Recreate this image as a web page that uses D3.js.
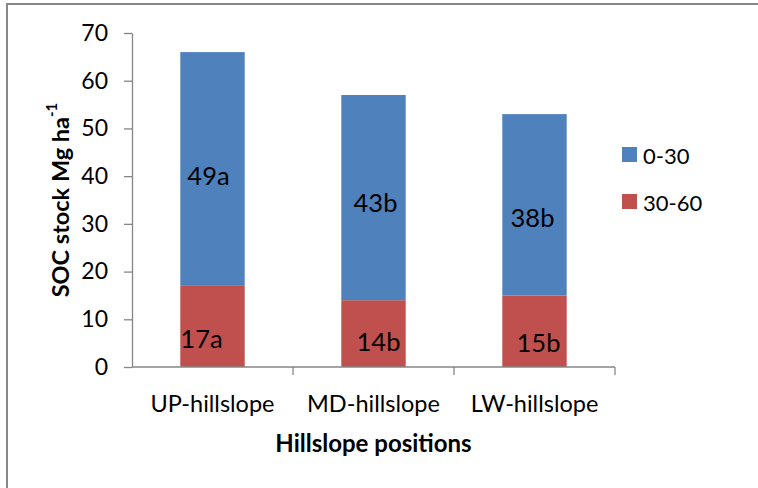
<!DOCTYPE html>
<html>
<head>
<meta charset="utf-8">
<script src="https://cdn.jsdelivr.net/npm/d3@7"></script>
<style>
  html, body { margin: 0; padding: 0; background: #fff; }
  svg { display: block; font-family: Lato, "Open Sans", sans-serif; }
</style>
</head>
<body>
<svg id="chart" width="758" height="488"></svg>
<script>
// ---- data ----
const categories = ["UP-hillslope", "MD-hillslope", "LW-hillslope"];
const seriesNames = ["0-30", "30-60"];
const depth0_30 = [49, 43, 38];
const depth30_60 = [17, 14, 15];
const labels0_30 = ["49a", "43b", "38b"];
const labels30_60 = ["17a", "14b", "15b"];
const yTicks = [0, 10, 20, 30, 40, 50, 60, 70];

// ---- layout / style (not data) ----
const colors = { "0-30": "#4F81BD", "30-60": "#C0504D" };
const labelNudge = { // [dx, dy] in px relative to segment centre
  "0-30": [[-4, 6], [2, 4], [-2, 12]],
  "30-60": [[-11, 12], [5, 7], [4, 11]]
};

const svg = d3.select("#chart");
const margin = { left: 132, top: 33, right: 143, bottom: 121 };
const W = 758, H = 488;
const plotW = W - margin.left - margin.right; // 483
const plotH = H - margin.top - margin.bottom; // 334

// frame
svg.append("rect")
  .attr("x", 7).attr("y", 4)
  .attr("width", 800).attr("height", 600)
  .attr("fill", "none").attr("stroke", "#888").attr("stroke-width", 2);

const g = svg.append("g").attr("transform", `translate(${margin.left},${margin.top})`);

const x = d3.scaleBand().domain(categories).range([0, plotW]).paddingInner(0.6).paddingOuter(0.3);
const xb = d3.scaleBand().domain(categories).range([0, plotW]);
const y = d3.scaleLinear().domain([0, 70]).range([plotH, 0]);

const rows = categories.map((c, i) => ({ cat: c, "0-30": depth0_30[i], "30-60": depth30_60[i] }));
const stack = d3.stack().keys(["30-60", "0-30"])(rows);
const labelMap = { "0-30": labels0_30, "30-60": labels30_60 };

// bars
stack.forEach(layer => {
  g.append("g").selectAll("rect").data(layer).join("rect")
    .attr("x", d => x(d.data.cat))
    .attr("width", x.bandwidth())
    .attr("y", d => y(d[1]))
    .attr("height", d => y(d[0]) - y(d[1]))
    .attr("fill", colors[layer.key]);
});

// bar labels
stack.forEach(layer => {
  g.append("g").selectAll("text").data(layer).join("text")
    .attr("x", (d, i) => x(d.data.cat) + x.bandwidth() / 2 + labelNudge[layer.key][i][0])
    .attr("y", (d, i) => y((d[0] + d[1]) / 2) + labelNudge[layer.key][i][1])
    .attr("text-anchor", "middle")
    .attr("dominant-baseline", "central")
    .attr("font-size", 25.5)
    .attr("fill", "#000")
    .text((d, i) => labelMap[layer.key][i]);
});

// y axis
const yAxis = g.append("g")
  .call(d3.axisLeft(y).tickValues(yTicks).tickSize(8).tickPadding(16).tickSizeOuter(0));
yAxis.select(".domain").attr("stroke", "#868686").attr("stroke-width", 1.3);
yAxis.selectAll(".tick line").attr("stroke", "#868686").attr("stroke-width", 1.3);
yAxis.selectAll(".tick text").attr("font-size", 23).attr("fill", "#000")
  .attr("font-family", "Lato, sans-serif");

// x axis (ticks at band boundaries)
const xAxisG = g.append("g").attr("transform", `translate(0,${plotH})`);
xAxisG.append("line").attr("x1", 0).attr("x2", plotW).attr("y1", 0).attr("y2", 0)
  .attr("stroke", "#868686").attr("stroke-width", 1.3);
const bounds = categories.map(c => xb(c) + xb.bandwidth());
xAxisG.selectAll("line.tk").data(bounds).join("line").attr("class", "tk")
  .attr("x1", d => d).attr("x2", d => d).attr("y1", 0).attr("y2", 8)
  .attr("stroke", "#868686").attr("stroke-width", 1.3);
xAxisG.selectAll("text.cl").data(categories).join("text").attr("class", "cl")
  .attr("x", d => xb(d) + xb.bandwidth() / 2)
  .attr("y", 36)
  .attr("text-anchor", "middle")
  .attr("dominant-baseline", "central")
  .attr("font-size", 23.5)
  .attr("fill", "#000")
  .text(d => d);

// axis titles
svg.append("text")
  .attr("x", margin.left + plotW * 0.5)
  .attr("y", 442)
  .attr("text-anchor", "middle")
  .attr("dominant-baseline", "central")
  .attr("font-size", 24).attr("font-weight", "bold")
  .text("Hillslope positions");

const yt = svg.append("text")
  .attr("transform", "translate(60,200) rotate(-90)")
  .attr("text-anchor", "middle")
  .attr("dominant-baseline", "central")
  .attr("font-size", 23.5).attr("font-weight", "bold");
yt.append("tspan").text("SOC stock Mg ha");
yt.append("tspan").attr("font-size", 15).attr("dy", -9).text("-1");

// legend
const legend = svg.append("g").attr("transform", "translate(622,147)");
seriesNames.forEach((s, i) => {
  const row = legend.append("g").attr("transform", `translate(0,${i * 47})`);
  row.append("rect").attr("width", 15).attr("height", 15).attr("fill", colors[s]);
  row.append("text").attr("x", 21).attr("y", 8).attr("dominant-baseline", "central")
    .attr("font-size", 22).attr("fill", "#000").text(s);
});
</script>
</body>
</html>
